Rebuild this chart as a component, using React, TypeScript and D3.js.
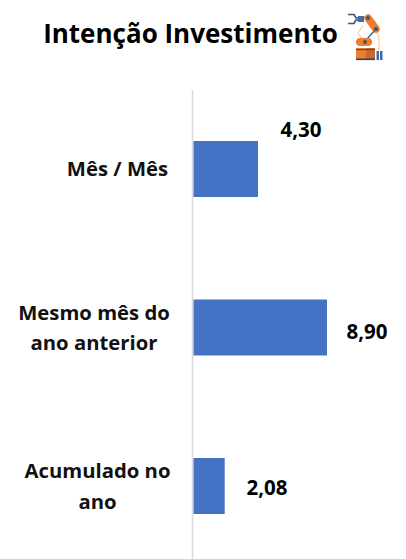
import React from "react";
import * as d3 from "d3";

const categories = ["Mês / Mês", "Mesmo mês do ano anterior", "Acumulado no ano"];
const categoryLines = [["Mês / Mês"], ["Mesmo mês do", "ano anterior"], ["Acumulado no", "ano"]];
const values = [4.3, 8.9, 2.08];
const valueLabels = ["4,30", "8,90", "2,08"];
const title = "Intenção Investimento";

const W = 406;
const H = 559;
const font = "'Open Sans', sans-serif";

function RobotIcon() {
  return (
    <g transform="translate(347,12)">
      <path d="M16 13 L11 21 L15 27 M29 17 L32 26 L32 38" fill="none" stroke="#f8d9a0" strokeWidth={1.4} />
      <path d="M1 2.5 H7 L9 6 H13 M1 11.5 H7 L9 8 H13" fill="none" stroke="#44546a" strokeWidth={1.6} />
      <rect x={11} y={4} width={6} height={6} fill="#3f6fa8" />
      <path d="M21 6 L29 17" stroke="#ed7d31" strokeWidth={7.5} strokeLinecap="round" />
      <path d="M29 17 L20 27" stroke="#3f6fa8" strokeWidth={1.6} />
      <path d="M13 30 H21" stroke="#ed7d31" strokeWidth={8} strokeLinecap="round" />
      <circle cx={21} cy={6} r={2} fill="#44546a" />
      <circle cx={29} cy={17} r={2} fill="#44546a" />
      <circle cx={18} cy={30} r={2} fill="#44546a" />
      <rect x={9} y={36} width={19} height={12} fill="#ed7d31" />
      <rect x={19} y={36} width={9} height={12} fill="#c8682a" />
      <rect x={9} y={37} width={19} height={1.2} fill="#44546a" />
      <rect x={9} y={46.5} width={19} height={1.6} fill="#33415a" />
      <rect x={29.5} y={39} width={2.5} height={9} fill="#3f6fa8" />
      <rect x={33} y={39} width={2.5} height={9} fill="#3f6fa8" />
    </g>
  );
}

export default function App() {
  const x = d3.scaleLinear().domain([0, 8.9]).range([193.5, 327]);
  const y = d3.scalePoint<string>().domain(categories).range([169, 486]);
  const bh = 56;
  const valueX = [301, 367, 267];
  const valueY = [137, 339, 495];
  const labelCenter = [117.5, 94, 97.5];
  const labelBase = [[176], [320, 350], [478, 509]];

  return (
    <svg width={W} height={H} viewBox={`0 0 ${W} ${H}`} style={{ position: "absolute", left: 0, top: 0, background: "#fff" }} fontFamily={font}>
      <text x={190.5} y={43} textAnchor="middle" fontSize={26} fontWeight={700} fill="#000">{title}</text>
      <RobotIcon />
      <line x1={192.5} x2={192.5} y1={90} y2={559} stroke="#d9d9d9" strokeWidth={1.5} />
      {categories.map((c, i) => (
        <g key={c}>
          <rect x={x(0)} y={(y(c) as number) - bh / 2} width={x(values[i]) - x(0)} height={bh} fill="#4472c4" />
          <text x={valueX[i]} y={valueY[i]} textAnchor="middle" fontSize={20.5} fontWeight={700} fill="#000">{valueLabels[i]}</text>
          {categoryLines[i].map((ln, j) => (
            <text key={ln} x={labelCenter[i]} y={labelBase[i][j]} textAnchor="middle" fontSize={20.3} fontWeight={700} fill="#111">{ln}</text>
          ))}
        </g>
      ))}
    </svg>
  );
}
